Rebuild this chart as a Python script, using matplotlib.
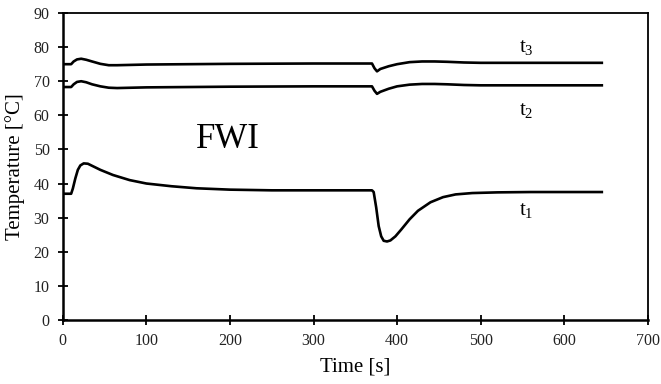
import matplotlib
matplotlib.use("Agg")
import matplotlib.pyplot as plt

# Time [s] and temperatures [°C]
time_t1 = [0, 10, 12, 15, 18, 21, 25, 30, 35, 45, 60, 80, 100, 130, 160, 200, 250,
           300, 350, 370, 372, 375, 378, 381, 384, 388, 392, 398, 405, 415, 425, 440,
           455, 470, 490, 520, 560, 600, 645]
temp_t1 = [37, 37, 38.5, 41.5, 44, 45.3, 45.9, 45.8, 45.2, 44, 42.5, 41, 40, 39.2,
           38.6, 38.2, 38, 38, 38, 38, 37.5, 33, 27.5, 24.5, 23.2, 23, 23.3, 24.5,
           26.5, 29.5, 32, 34.5, 36, 36.8, 37.2, 37.4, 37.5, 37.5, 37.5]

time_t23 = [0, 10, 13, 17, 22, 28, 35, 45, 55, 65, 100, 200, 300, 370, 373, 376, 380,
            390, 400, 415, 430, 445, 460, 480, 500, 645]
temp_t3 = [75, 75, 75.8, 76.4, 76.6, 76.3, 75.8, 75.1, 74.7, 74.7, 74.9, 75.1, 75.2,
           75.2, 73.8, 72.9, 73.6, 74.4, 75.0, 75.6, 75.8, 75.8, 75.7, 75.5, 75.4, 75.4]
temp_t2 = [68.3, 68.3, 69.1, 69.8, 70, 69.7, 69.1, 68.5, 68.1, 68, 68.2, 68.4, 68.5,
           68.5, 67.2, 66.3, 66.9, 67.8, 68.5, 69, 69.2, 69.2, 69.1, 68.9, 68.8, 68.8]

x_ticks = [0, 100, 200, 300, 400, 500, 600, 700]
y_ticks = [0, 10, 20, 30, 40, 50, 60, 70, 80, 90]

plt.rcParams['font.family'] = ['Liberation Serif', 'DejaVu Serif']

fig = plt.figure(figsize=(6.61, 3.84), dpi=100)
ax = fig.add_axes([0.095, 0.167, 0.885, 0.799])

for t, v in [(time_t1, temp_t1), (time_t23, temp_t3), (time_t23, temp_t2)]:
    ax.plot(t, v, color='black', lw=1.9, solid_joinstyle='round')

ax.set_xlim(0, 700)
ax.set_ylim(0, 90)
ax.set_xticks(x_ticks)
ax.set_yticks(y_ticks)
ax.tick_params(direction='inout', length=7, width=1.3, labelsize=11.5, pad=6,
               labelcolor='#222222')
for s in ax.spines.values():
    s.set_linewidth(1.3)
ax.spines['left'].set_linewidth(1.8)
ax.spines['bottom'].set_linewidth(1.8)

ax.set_xlabel('Time [s]', fontsize=15, labelpad=6)
ax.set_ylabel('Temperature [°C]', fontsize=15)
ax.yaxis.set_label_coords(-0.064, 0.5)

ax.text(197, 53, 'FWI', fontsize=25, ha='center', va='center')
ax.text(555, 80, r'$\mathregular{t_3}$', fontsize=15, ha='center', va='center')
ax.text(555, 61.5, r'$\mathregular{t_2}$', fontsize=15, ha='center', va='center')
ax.text(555, 32, r'$\mathregular{t_1}$', fontsize=15, ha='center', va='center')

fig.savefig('out.png', dpi=100)
